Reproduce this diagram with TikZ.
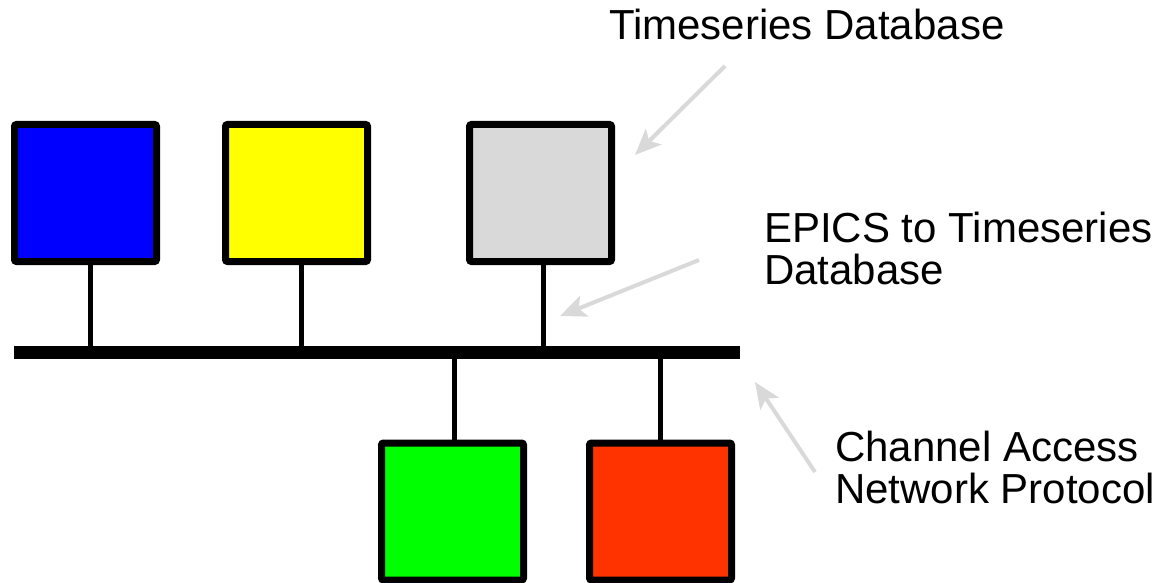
\documentclass[tikz,border=0pt]{standalone}
\usepackage{fontspec}
\setmainfont{Liberation Sans}
\usetikzlibrary{arrows.meta,calc}
\definecolor{cblue}{HTML}{0000FF}
\definecolor{cyellow}{HTML}{FFFF00}
\definecolor{cgray}{HTML}{D9D9D9}
\definecolor{cgreen}{HTML}{00FF00}
\definecolor{cred}{HTML}{FF3300}
\definecolor{arrowgray}{HTML}{D9D9D9}
\tikzset{
  hostbox/.style={draw=black, line width=7pt, rounded corners=2pt, rectangle,
    minimum width=142pt, minimum height=137pt, inner sep=0pt},
  busbar/.style={fill=black, rectangle, minimum width=726pt, minimum height=13pt, inner sep=0pt},
  stem/.style={draw=black, line width=5pt},
  callout/.style={draw=arrowgray, line width=4pt,
    -{Stealth[length=26pt,width=22pt,inset=6pt]}},
  lbl/.style={font=\fontsize{42}{42}\selectfont, align=left, inner sep=0pt, anchor=base west},
}
\begin{document}
\begin{tikzpicture}[x=1pt,y=-1pt]
\useasboundingbox (0,0) rectangle (1165,583);
% hosts
\node[hostbox, fill=cblue]   (blue)   at (85.5,193) {};
\node[hostbox, fill=cyellow] (yellow) at (296.5,193) {};
\node[hostbox, fill=cgray]   (gray)   at (540.5,193) {};
\node[hostbox, fill=cgreen]  (green)  at (452.5,511.5) {};
\node[hostbox, fill=cred]    (red)    at (660.5,511.5) {};
% bus
\node[busbar] (bus) at (377,352.5) {};
% stems
\draw[stem] ([xshift=4.5pt]blue.south) -- ([xshift=4.5pt]blue.south |- bus.center);
\draw[stem] ([xshift=4.5pt]yellow.south) -- ([xshift=4.5pt]yellow.south |- bus.center);
\draw[stem] ([xshift=2.5pt]gray.south) -- ([xshift=2.5pt]gray.south |- bus.center);
\draw[stem] ([xshift=1.5pt]green.north) -- ([xshift=1.5pt]green.north |- bus.center);
\draw[stem] ([xshift=-0.5pt]red.north) -- ([xshift=-0.5pt]red.north |- bus.center);
% labels
\node[lbl] (tsdb) at (609,40) {Timeseries Database};
\node[lbl] (e2t) at (764,284) {EPICS to Timeseries\\Database};
\node[lbl] (ca) at (835,503) {Channel Access\\Network Protocol};
% callout arrows
\coordinate (a1s) at (725,66);  \coordinate (a1e) at (635,155);
\coordinate (a2s) at (699,260); \coordinate (a2e) at (560,316);
\coordinate (a3s) at (815,472); \coordinate (a3e) at (755,382);
\draw[callout] (a1s) -- (a1e);
\draw[callout] (a2s) -- (a2e);
\draw[callout] (a3s) -- (a3e);
\end{tikzpicture}
\end{document}
